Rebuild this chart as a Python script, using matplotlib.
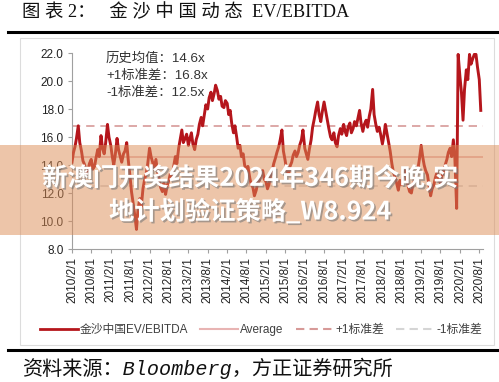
import matplotlib
matplotlib.use("Agg")
import matplotlib.pyplot as plt
import matplotlib.patheffects as pe
from matplotlib.patches import Rectangle
from matplotlib.lines import Line2D
import pandas as pd

# 金沙中国动态 EV/EBITDA, two readings per month from 2010/2 to 2020/8
ev_ebitda = [
    # 2010 Feb-Dec
    14.2, 14.9, 15.3, 15.9, 16.8, 15.6, 15.0, 14.3, 14.0, 13.4, 13.6, 14.1,
    14.4, 13.7, 13.9, 14.5, 15.1, 14.6, 16.1, 15.2, 14.8, 15.6,
    # 2011
    16.9, 16.0, 15.4, 14.6, 14.0, 14.7, 15.9, 15.1, 14.6, 14.2, 14.8, 15.0,
    15.6, 14.4, 13.2, 12.1, 11.2, 10.4, 9.4, 10.8, 11.6, 11.0, 12.3, 12.9,
    # 2012
    13.4, 14.1, 15.2, 14.6, 14.2, 13.7, 14.4, 13.6, 13.0, 12.4, 12.1, 12.7,
    11.9, 12.5, 12.9, 13.4, 13.1, 13.9, 14.6, 14.1, 15.2, 15.8, 16.5, 15.6,
    # 2013
    15.9, 16.2, 15.4, 15.9, 16.3, 15.5, 15.1, 15.8, 16.2, 16.9, 17.4, 16.8,
    17.6, 18.3, 18.0, 18.8, 19.2, 18.6, 19.1, 19.7, 19.3, 18.7, 18.9, 18.2,
    # 2014
    18.1, 18.6, 18.4, 17.6, 17.9, 17.0, 16.3, 16.8, 16.0, 15.2, 15.4, 14.6,
    14.8, 14.0, 13.6, 13.9, 13.1, 12.6, 12.4, 11.8, 12.2, 12.7, 12.9, 13.3,
    # 2015
    13.6, 13.0, 12.8, 12.3, 12.6, 13.2, 13.6, 14.1, 14.5, 14.9, 15.3, 15.8,
    16.5, 15.0, 14.3, 13.6, 13.3, 13.9, 14.2, 14.7, 15.0, 14.6, 14.9, 15.4,
    # 2016
    15.8, 16.5, 15.2, 14.8, 14.4, 15.1, 15.8, 16.7, 17.3, 17.9, 18.5, 17.6,
    17.1, 17.8, 18.5, 17.9, 17.2, 16.6, 16.0, 15.8, 16.3, 15.6, 15.3, 16.1,
    # 2017
    16.6, 16.2, 16.9, 16.4, 16.1, 16.7, 17.0, 16.3, 16.6, 17.1, 16.8, 17.3,
    17.9, 17.0, 16.4, 16.9, 17.2, 16.7, 17.5, 18.0, 19.4, 17.6, 16.9, 16.4,
    # 2018
    16.7, 16.2, 15.5, 16.1, 16.9, 16.3, 15.6, 15.0, 14.1, 13.5, 13.1, 12.7,
    12.2, 12.9, 12.6, 13.3, 13.6, 13.0, 12.5, 12.1, 12.0, 12.6, 12.9, 13.2,
    # 2019
    13.7, 14.4, 15.4, 14.6, 14.0, 13.6, 13.3, 12.6, 11.8, 12.3, 12.6, 13.1,
    13.5, 13.0, 12.7, 13.2, 13.6, 14.0, 14.4, 14.9, 15.2, 14.6, 15.8, 14.5,
    # 2020 Jan-Aug
    10.9, 21.9, 20.3, 19.2, 17.2, 19.4, 20.8, 20.1, 21.9, 21.2, 21.6, 21.9,
    21.9, 21.0, 20.1, 17.9,
]
dates = pd.date_range("2010-02-01", periods=len(ev_ebitda), freq="SMS")

hist_mean = 14.6
plus_1sd = 16.8
minus_1sd = 12.5

tick_dates = pd.date_range("2010-02-01", "2020-08-01", freq="6MS")
tick_labels = [f"{d.year}/{d.month}/{d.day}" for d in tick_dates]
y_ticks = [8.0, 10.0, 12.0, 14.0, 16.0, 18.0, 20.0, 22.0]

W, H = 499, 382
def fx(x):
    return x / W
def fy(y):
    return 1 - y / H

SANS = ["Liberation Sans", "Noto Sans CJK SC"]
SERIF = ["Liberation Serif", "Noto Sans CJK SC"]
RED = "#b5161c"
AVG = "#e8b4b3"
PLUS = "#d79a98"
MINUS = "#d5d5d5"

fig = plt.figure(figsize=(W / 100, H / 100), dpi=100)

# 外框和上下粗线
fig.patches.append(Rectangle((fx(20), fy(345)), fx(494) - fx(20), fy(38) - fy(345),
                             transform=fig.transFigure, fill=False,
                             edgecolor="#dcdcdc", lw=0.8))
fig.add_artist(Line2D([fx(8), 1], [fy(32), fy(32)], color="black", lw=2.2))
fig.add_artist(Line2D([fx(8), 1], [fy(350), fy(350)], color="black", lw=2.2))

fig.text(fx(22), fy(12), "图 表 2：   金 沙 中 国 动 态  EV/EBITDA",
         family=SERIF, fontsize=13.2, va="center", ha="left", color="#111111")
fig.text(fx(22), fy(368), "资料来源：Bloomberg，方正证券研究所",
         family=["Liberation Mono", "Noto Sans CJK SC"], style="italic",
         fontsize=14.5, va="center", ha="left", color="#111111")

ax = fig.add_axes([fx(72), fy(249), fx(483) - fx(72), fy(53) - fy(249)])
ax.plot(dates, ev_ebitda, color=RED, lw=2.1, zorder=3)
ax.axhline(hist_mean, color=AVG, lw=1.2, zorder=2)
ax.axhline(plus_1sd, color=PLUS, lw=1.2, ls=(0, (5, 3.5)), zorder=2)
ax.axhline(minus_1sd, color=MINUS, lw=1.2, ls=(0, (5, 3.5)), zorder=2)

ax.set_ylim(8, 22)
ax.set_xlim(pd.Timestamp("2010-02-01"), pd.Timestamp("2020-09-05"))
ax.set_yticks(y_ticks)
ax.set_yticklabels([f"{v:.1f}" for v in y_ticks], family=SANS, fontsize=8.5, color="#222222")
ax.set_xticks(tick_dates)
ax.set_xticklabels(tick_labels, rotation=90, family=SANS, fontsize=8.5, color="#222222")
ax.tick_params(axis="both", length=3, width=0.8, color="#a0a0a0", pad=3)
for s in ["top", "right"]:
    ax.spines[s].set_visible(False)
for s in ["left", "bottom"]:
    ax.spines[s].set_color("#a0a0a0")
    ax.spines[s].set_linewidth(0.8)

notes = [f"历史均值：{hist_mean}x", f"+1标准差：{plus_1sd}x", f"-1标准差：{minus_1sd}x"]
for i, t in enumerate(notes):
    fig.text(fx(106), fy(59 + 17 * i), t, family=SANS, fontsize=9.6,
             va="center", ha="left", color="#333333")

handles = [Line2D([], [], color=RED, lw=2),
           Line2D([], [], color=AVG, lw=1.5),
           Line2D([], [], color=PLUS, lw=1.5, ls=(0, (4, 2.5))),
           Line2D([], [], color=MINUS, lw=1.5, ls=(0, (4, 2.5)))]
labels = ["金沙中国EV/EBITDA", "Average", "+1标准差", "-1标准差"]
fig.legend(handles, labels, loc="center", bbox_to_anchor=(fx(261), fy(330)), ncol=4,
           frameon=False, handlelength=3.2, handletextpad=0.2, columnspacing=1.0,
           prop=dict(family=SANS, size=8.5), labelcolor="#404040")

# 覆盖在图上的水印条
fig.patches.append(Rectangle((0, fy(235)), 1, fy(145) - fy(235), transform=fig.transFigure,
                             facecolor="#dc8c55", alpha=0.5, edgecolor="none", zorder=10))
shadow = [pe.SimplePatchShadow(offset=(1.2, -1.2), shadow_rgbFace="#777777", alpha=0.6), pe.Normal()]
for y, t in [(178, "新澳门开奖结果2024年346期今晚,实"), (212, "地计划验证策略_W8.924")]:
    fig.text(fx(250), fy(y), t, family=["Noto Sans CJK SC", "DejaVu Sans"], weight="bold",
             fontsize=18.2, color="white", ha="center", va="center", zorder=11,
             path_effects=shadow)

fig.savefig("out.png", dpi=100)
